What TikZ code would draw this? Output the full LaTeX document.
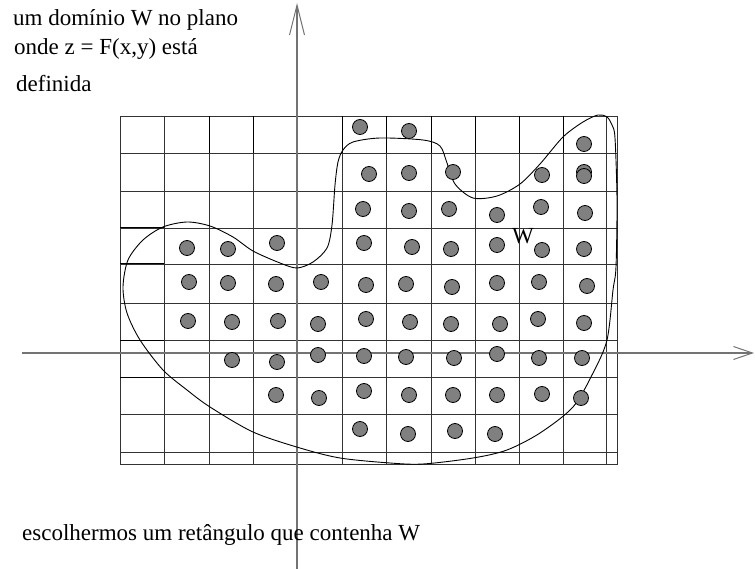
\documentclass[tikz,border=0pt]{standalone}
\usepackage{fontspec}
\setmainfont{Liberation Serif}
\usetikzlibrary{arrows.meta}

\newcommand*{\gxmin}{120}
\newcommand*{\gxmax}{617}
\newcommand*{\gymin}{116}
\newcommand*{\gymax}{464}

\begin{document}
\begin{tikzpicture}
[
	x=1pt,y=-1pt,
	gridline/.style={draw=black!80,line width=0.8pt},
	boldline/.style={draw=black,line width=1pt},
	axisline/.style={draw=black!55,line width=1.4pt},
	dot/.style={circle,draw,fill=black!50,line width=0.8pt,inner sep=0pt,minimum size=15pt},
	txt/.style={anchor=base west,inner sep=0pt,font=\fontsize{23}{28}\selectfont}
]
	\useasboundingbox (0,0) rectangle (755,569);

	% grid
	\foreach \x in {164,209,253,297,342,386,431,475,519,563,606}
	  \draw[gridline] (\x,\gymin) -- (\x,\gymax);
	\foreach \y in {153,191,228,264,303,340,377,414,452}
	  \draw[gridline] (\gxmin,\y) -- (\gxmax,\y);
	\draw[gridline] (\gxmin,\gymin) rectangle (\gxmax,\gymax);
	\foreach \y in {228,264,340,377}
	  \draw[boldline] (\gxmin,\y) -- (164,\y);
	\foreach \x in {209,253,342,386,431,475,519,563}
	  \draw[boldline] (\x,\gymin) -- (\x,153);

	% axes
	\coordinate (xl) at (22,353);
	\coordinate (xr) at (754,353);
	\coordinate (yb) at (297,569);
	\coordinate (yt) at (297,3);
	\draw[axisline,-{Straight Barb[length=19pt,width=13pt,line width=1pt]}] (xl) -- (xr);
	\draw[axisline,-{Straight Barb[length=30pt,width=15pt,line width=1pt]}] (yb) -- (yt);

	% domain
	\draw[line width=0.9pt] plot[smooth cycle] coordinates {
	  (123,287) (128,260) (143,240) (163,227) (187,222) (210,226) (233,237)
	  (253,251) (280,263) (297,268) (313,262) (327,248) (332,225) (335,185)
	  (338,162) (343,150) (353,142) (380,138) (423,140) (440,146) (447,163)
	  (455,184) (473,198) (497,196) (520,184) (540,164) (563,137) (583,122)
	  (598,115) (607,117) (612,125) (615,138) (617,200) (616,267) (613,290)
	  (607,340) (593,373) (573,407) (540,433) (507,450) (473,458) (423,464)
	  (390,463) (340,458) (300,448) (253,432) (210,407) (187,390) (163,370)
	  (140,340) (127,313)};

	% points
	\foreach \px/\py [count=\i] in {
	  360/127, 409/131, 584/144,
	  369/174, 409/173, 453/172, 542/175, 584/172, 584/176,
	  363/209, 409/211, 449/209, 497/215, 541/207, 585/213,
	  187/248, 228/249, 277/243, 364/243, 412/247, 451/249, 497/245, 542/250, 584/249,
	  189/282, 228/283, 276/284, 321/282, 366/285, 406/284, 452/287, 497/283, 539/282, 587/286,
	  188/321, 232/322, 278/321, 318/324, 366/319, 410/322, 451/324, 500/324, 538/319, 584/323,
	  232/360, 277/362, 318/355, 364/356, 406/357, 454/358, 497/354, 539/358, 582/358,
	  276/395, 319/398, 364/391, 409/395, 453/395, 497/395, 542/394, 581/398,
	  360/429, 408/434, 455/431, 495/434}
	  \node[dot] (p\i) at (\px,\py) {};

	% labels
	\node[txt] (l1) at (13,26) {um domínio W no plano};
	\node[txt] (l2) at (14,55) {onde z = F(x,y) está};
	\node[txt] (l3) at (16,92) {definida};
	\node[txt] (w) at (512,244) {W};
	\node[txt] (rect) at (22,540) {escolhermos um retângulo que contenha W};

\end{tikzpicture}
\end{document}
